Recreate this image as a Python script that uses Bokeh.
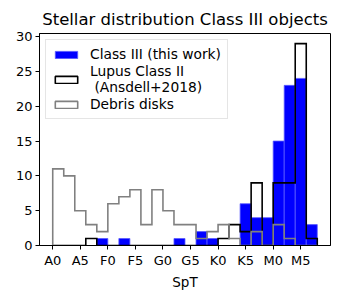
from bokeh.plotting import figure
from bokeh.models import FixedTicker, Legend, LegendItem, ColumnDataSource
from bokeh.embed import file_html
from bokeh.resources import INLINE

# Spectral type scale: A0=0, A5=5, F0=10, ... M5=45 ; bins of width 2
bin_edges = list(range(0, 50, 2))
tick_pos = [0, 5, 10, 15, 20, 25, 30, 35, 40, 45]
tick_labels = ["A0", "A5", "F0", "F5", "G0", "G5", "K0", "K5", "M0", "M5"]

class3 = [0, 0, 0, 0, 1, 0, 1, 0, 0, 0, 0, 1, 0, 2, 1, 0, 0, 6, 4, 4, 15, 23, 24, 3]
lupus = [0, 0, 0, 1, 0, 0, 0, 0, 0, 0, 0, 0, 0, 0, 0, 1, 3, 2, 9, 0, 9, 9, 29, 1]
debris = [11, 10, 5, 3, 2, 6, 7, 8, 3, 8, 5, 3, 3, 1, 2, 3, 1, 0, 2, 0, 3, 1, 0, 0]

FONT = "DejaVu Sans"

p = figure(width=340, height=296, output_backend="svg", toolbar_location=None,
           x_range=(-2.4, 50.4), y_range=(0, 30.45),
           title="Stellar distribution Class III objects",
           min_border_left=39, min_border_right=10, min_border_top=33, min_border_bottom=51)
p.title.text_font = FONT
p.title.text_font_size = "16.5px"
p.title.text_font_style = "normal"
p.title.align = "center"
p.title.text_color = "black"

p.xgrid.visible = False
p.ygrid.visible = False
p.outline_line_color = "black"
p.outline_line_width = 1
p.outline_line_alpha = 1

p.xaxis.ticker = FixedTicker(ticks=tick_pos)
p.xaxis.major_label_overrides = {t: l for t, l in zip(tick_pos, tick_labels)}
p.yaxis.ticker = FixedTicker(ticks=[0, 5, 10, 15, 20, 25, 30])
p.xaxis.axis_label = "SpT"
for ax in (p.xaxis[0], p.yaxis[0]):
    ax.major_label_text_font = FONT
    ax.major_label_text_font_size = "13px"
    ax.major_label_text_color = "black"
    ax.axis_label_text_font = FONT
    ax.axis_label_text_font_size = "13.5px"
    ax.axis_label_text_font_style = "normal"
    ax.axis_label_text_color = "black"
    ax.minor_tick_line_color = None
    ax.major_tick_in = 0
    ax.major_tick_out = 4
    ax.major_tick_line_color = "black"
    ax.axis_line_color = "black"
    ax.major_label_standoff = 3
p.xaxis.axis_label_standoff = 3

left = bin_edges[:-1]
right = bin_edges[1:]


def bars(counts):
    return ColumnDataSource(dict(left=[l for l, c in zip(left, counts) if c > 0],
                                 right=[r for r, c in zip(right, counts) if c > 0],
                                 top=[c for c in counts if c > 0]))


r_c3 = p.quad(left="left", right="right", top="top", bottom=0, source=bars(class3),
              fill_color="blue", line_color="#5a5aff", line_width=0.8)


def outline(counts):
    xs, ys = [bin_edges[0]], [0]
    for i, c in enumerate(counts):
        xs += [bin_edges[i], bin_edges[i + 1]]
        ys += [c, c]
    xs.append(bin_edges[-1])
    ys.append(0)
    return xs, ys


lx, ly = outline(lupus)
p.line(lx, ly, line_color="black", line_width=1.6, line_join="miter")
dx, dy = outline(debris)
p.line(dx, dy, line_color="gray", line_width=1.6, line_join="miter")

# hidden quads only used for the legend patches
leg_l = p.quad(left="left", right="right", top="top", bottom=0, source=bars(lupus),
               fill_alpha=0, line_color="black", line_width=1.6, visible=False)
leg_d = p.quad(left="left", right="right", top="top", bottom=0, source=bars(debris),
               fill_alpha=0, line_color="gray", line_width=1.6, visible=False)

legend = Legend(items=[
    LegendItem(label="Class III (this work)", renderers=[r_c3]),
    LegendItem(label="Lupus Class II\n (Ansdell+2018)", renderers=[leg_l]),
    LegendItem(label="Debris disks", renderers=[leg_d]),
], location="top_left")
legend.label_text_font = FONT
legend.label_text_font_size = "13.8px"
legend.label_text_color = "black"
legend.glyph_width = 28
legend.glyph_height = 9
legend.label_standoff = 10
legend.padding = 6
legend.spacing = 1
legend.margin = 6
legend.border_line_color = "#cccccc"
legend.border_line_width = 1
legend.background_fill_alpha = 0.8
p.add_layout(legend)

open("out.html", "w").write(file_html(p, INLINE))
